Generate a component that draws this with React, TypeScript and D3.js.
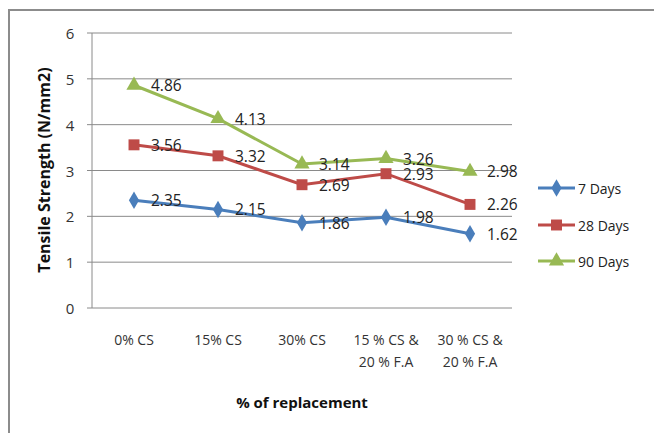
import { useEffect, useRef } from 'react';
import * as d3 from 'd3';

// chart data
const categories = ['0% CS', '15% CS', '30% CS', '15 % CS &\n20 % F.A', '30 % CS &\n20 % F.A'];
const days7 = [2.35, 2.15, 1.86, 1.98, 1.62];
const days28 = [3.56, 3.32, 2.69, 2.93, 2.26];
const days90 = [4.86, 4.13, 3.14, 3.26, 2.98];
const seriesNames = ['7 Days', '28 Days', '90 Days'];
const yTicks = [0, 1, 2, 3, 4, 5, 6];

const FONT = '"Open Sans", "Liberation Sans", sans-serif';

export default function App() {
    const svgRef = useRef<SVGSVGElement>(null);

    useEffect(() => {
        if (!svgRef.current) return;
        const svg = d3.select(svgRef.current);
        svg.selectAll('*').remove();

        const left = 92, right = 512, top = 33, bottom = 308;

        const x = d3.scaleBand<string>().domain(categories).range([left, right]);
        const y = d3.scaleLinear().domain([0, 6]).range([bottom, top]);

        // outer border
        svg.append('rect')
            .attr('x', 9).attr('y', 10)
            .attr('width', 660).attr('height', 440)
            .attr('fill', 'white')
            .attr('stroke', '#8c8c8c').attr('stroke-width', 2);

        // gridlines
        svg.append('g').selectAll('line')
            .data(yTicks)
            .join('line')
            .attr('x1', left - 5).attr('x2', right)
            .attr('y1', d => y(d)).attr('y2', d => y(d))
            .attr('stroke', '#8a8a8a').attr('stroke-width', 1);

        // y axis line
        svg.append('line')
            .attr('x1', left).attr('x2', left)
            .attr('y1', top).attr('y2', bottom)
            .attr('stroke', '#8a8a8a');

        // y tick labels
        svg.append('g').selectAll('text')
            .data(yTicks)
            .join('text')
            .attr('x', 70).attr('y', d => y(d))
            .attr('text-anchor', 'middle')
            .attr('dominant-baseline', 'central')
            .style('font', `15px ${FONT}`)
            .attr('fill', '#333')
            .text(d => d);

        // x tick labels
        const xl = svg.append('g').selectAll('text')
            .data(categories)
            .join('text')
            .attr('text-anchor', 'middle')
            .style('font', `14px ${FONT}`)
            .attr('fill', '#333');
        xl.each(function (d) {
            const t = d3.select(this);
            d.split('\n').forEach((line, i) => {
                t.append('tspan')
                    .attr('x', x(d)! + x.bandwidth() / 2)
                    .attr('y', 345 + i * 22)
                    .text(line);
            });
        });

        // axis titles
        svg.append('text')
            .attr('x', 302).attr('y', 408)
            .attr('text-anchor', 'middle')
            .style('font', `bold 15px ${FONT}`)
            .attr('fill', '#111')
            .text('% of replacement');

        svg.append('text')
            .attr('transform', `translate(44,170) rotate(-90)`)
            .attr('text-anchor', 'middle')
            .attr('dominant-baseline', 'central')
            .style('font', `bold 16px ${FONT}`)
            .attr('fill', '#111')
            .text('Tensile Strength (N/mm2)');

        const series = [
            { name: seriesNames[0], values: days7, color: '#4a7ebb', symbol: d3.symbolDiamond, size: 90 },
            { name: seriesNames[1], values: days28, color: '#be4b48', symbol: d3.symbolSquare, size: 120 },
            { name: seriesNames[2], values: days90, color: '#98b954', symbol: d3.symbolTriangle, size: 100 },
        ];

        const cx = (i: number) => x(categories[i])! + x.bandwidth() / 2;
        const line = d3.line<number>().x((_, i) => cx(i)).y(d => y(d));

        series.forEach(s => {
            svg.append('path')
                .attr('d', line(s.values))
                .attr('fill', 'none')
                .attr('stroke', s.color)
                .attr('stroke-width', 3);

            svg.append('g').selectAll('path')
                .data(s.values)
                .join('path')
                .attr('transform', (d, i) => `translate(${cx(i)},${y(d)})`)
                .attr('d', d3.symbol(s.symbol, s.size)())
                .attr('fill', s.color);
        });

        // data labels
        series.forEach(s => {
            svg.append('g').selectAll('text')
                .data(s.values)
                .join('text')
                .attr('x', (d, i) => cx(i) + 17)
                .attr('y', d => y(d))
                .attr('dominant-baseline', 'central')
                .style('font', `15.5px ${FONT}`)
                .attr('fill', '#222')
                .text(d => d.toFixed(2));
        });

        // legend
        const legendY = [188, 225, 261];
        series.forEach((s, i) => {
            const g = svg.append('g').attr('transform', `translate(0,${legendY[i]})`);
            g.append('line')
                .attr('x1', 538).attr('x2', 575)
                .attr('stroke', s.color).attr('stroke-width', 3);
            g.append('path')
                .attr('transform', 'translate(556.5,0)')
                .attr('d', d3.symbol(s.symbol, s.size)())
                .attr('fill', s.color);
            g.append('text')
                .attr('x', 578).attr('y', 0)
                .attr('dominant-baseline', 'central')
                .style('font', `14px ${FONT}`)
                .attr('fill', '#222')
                .text(s.name);
        });
    }, []);

    return (
        <svg ref={svgRef} width={654} height={433}
             style={{ position: 'absolute', left: 0, top: 0, display: 'block', background: 'white' }} />
    );
}
